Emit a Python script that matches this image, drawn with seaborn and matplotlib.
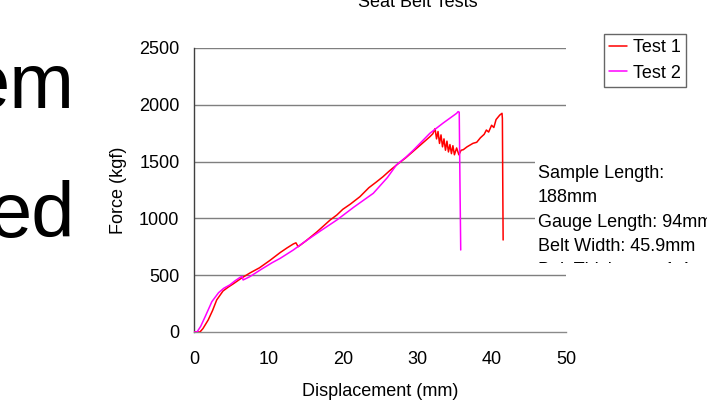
import numpy as np
import pandas as pd
import seaborn as sns
import matplotlib
matplotlib.use("Agg")
import matplotlib.pyplot as plt

# Seat belt pull tests: displacement (mm) vs force (kgf)
test1_disp = [0, 0.8, 1.2, 1.9, 2.5, 3.05, 3.9, 4.6, 5.3, 6.4, 7.5, 8.8, 10.2, 11.6,
              12.5, 13.35, 13.7, 14.0, 15.0, 16.5, 18.3, 19.2, 20.0, 21.0, 22.3, 23.5,
              24.5, 25.4, 26.3, 27.5, 28.4, 29.4, 30.5, 31.2, 31.7, 32.1, 32.4, 32.6,
              32.8, 33.0, 33.2, 33.4, 33.6, 33.8, 34.0, 34.2, 34.4, 34.6, 34.8, 35.0,
              35.3, 35.6, 35.9, 36.2, 36.7, 37.5, 38.0, 38.5, 39.0, 39.3, 39.6, 40.0,
              40.3, 40.6, 41.1, 41.4, 41.45, 41.5, 41.55]
test1_force = [0, 0, 30, 105, 190, 282, 361, 395, 425, 475, 519, 565, 630, 700,
               740, 775, 785, 751, 800, 880, 986, 1030, 1080, 1125, 1191, 1270,
               1320, 1367, 1420, 1485, 1530, 1587, 1650, 1690, 1719, 1745, 1790, 1700,
               1765, 1660, 1735, 1630, 1700, 1600, 1680, 1585, 1650, 1570, 1640, 1560,
               1620, 1560, 1600, 1605, 1630, 1661, 1670, 1710, 1740, 1778, 1760, 1820,
               1800, 1870, 1910, 1925, 1880, 1309, 810]

test2_disp = [0, 0.4, 0.9, 1.5, 2.4, 3.3, 4.0, 4.8, 5.5, 6.2, 6.45, 6.6, 7.5, 9.0,
              10.5, 11.6, 13.35, 15.0, 17.0, 19.2, 21.5, 24.1, 26.0, 27.2, 28.5, 29.5,
              31.7, 33.5, 35.3, 35.5, 35.65, 35.75, 35.85]
test2_force = [0, 0, 50, 135, 267, 346, 385, 414, 450, 481, 490, 458, 487, 550,
               610, 649, 722, 800, 890, 986, 1100, 1221, 1360, 1470, 1540, 1602,
               1749, 1840, 1925, 1940, 1935, 1300, 722]

y_ticks = [0, 500, 1000, 1500, 2000, 2500]
x_ticks = [0, 10, 20, 30, 40, 50]

notes = ["Sample Length:", "188mm", "Gauge Length: 94mm", "Belt Width: 45.9mm",
         "Belt Thickness: 1.4mm"]

df = pd.concat([
    pd.DataFrame({"disp": test1_disp, "force": test1_force, "test": "Test 1"}),
    pd.DataFrame({"disp": test2_disp, "force": test2_force, "test": "Test 2"}),
], ignore_index=True)

sns.set_style("white")
plt.rcParams["font.family"] = ["Liberation Sans", "DejaVu Sans"]
plt.rcParams["text.color"] = "black"
plt.rcParams["axes.labelcolor"] = "black"
fs = 13

W, H = 707, 401
fig = plt.figure(figsize=(W / 100, H / 100), dpi=100)
ax = fig.add_axes([194 / W, 1 - 332 / H, (566 - 194) / W, (332 - 48) / H])

sns.lineplot(data=df, x="disp", y="force", hue="test", sort=False, estimator=None,
             palette={"Test 1": "#ff0000", "Test 2": "#ff00ff"}, linewidth=1.1,
             ax=ax, zorder=3)

ax.set_xlim(0, 50)
ax.set_ylim(0, 2500)
ax.set_xticks(x_ticks)
ax.set_yticks(y_ticks)
for v in y_ticks[1:]:
    ax.axhline(v, color="#7f7f7f", lw=1.0, zorder=1)

for s in ["top", "right"]:
    ax.spines[s].set_visible(False)
ax.spines["left"].set_color("#404040")
ax.spines["bottom"].set_color("#8a8a8a")
ax.spines["left"].set_linewidth(1.0)
ax.spines["bottom"].set_linewidth(1.0)
ax.tick_params(axis="both", direction="out", length=4.5, width=1.0,
               colors="#606060", labelcolor="black", labelsize=fs)
ax.tick_params(axis="y", pad=6)
ax.tick_params(axis="x", pad=9)

ax.set_xlabel("Displacement (mm)", fontsize=fs, color="black")
ax.set_ylabel("Force (kgf)", fontsize=fs, color="black")
ax.xaxis.set_label_coords(0.5, -0.18)
ax.yaxis.set_label_coords(-0.18, 0.5)

leg = ax.legend(loc="upper left", bbox_to_anchor=(604 / W, 1 - 34 / H),
                bbox_transform=fig.transFigure, fontsize=fs, frameon=True,
                fancybox=False, handlelength=0.95, handletextpad=0.35,
                labelspacing=0.45, borderpad=0.3, borderaxespad=0)
leg.get_frame().set_edgecolor("#404040")
leg.get_frame().set_linewidth(1.0)
for t in leg.get_texts():
    t.set_color("black")

# slide title, cropped at the top edge
fig.text(418 / W, 1 - 7 / H, "Seat Belt Tests", ha="center", va="baseline",
         fontsize=fs, color="black")

# cropped slide text on the left
fig.text(75 / W, 1 - 108 / H, "em", ha="right", va="baseline", fontsize=56, color="black")
fig.text(75 / W, 1 - 237 / H, "ed", ha="right", va="baseline", fontsize=56, color="black")

# text box over the plot, clipped at its bottom
box_top, box_bot = 155, 263
bx = fig.add_axes([535 / W, 1 - box_bot / H, (W - 535) / W, (box_bot - box_top) / H])
bx.set_facecolor("white")
bx.set_xticks([])
bx.set_yticks([])
for s in bx.spines.values():
    s.set_visible(False)
bx.set_xlim(0, 1)
bx.set_ylim(0, 1)
for i, line in enumerate(notes):
    base = 178 + i * 24.3
    bx.text(3 / (W - 535), (box_bot - base) / (box_bot - box_top), line,
            ha="left", va="baseline", fontsize=fs, color="black", clip_on=True)

fig.savefig("out.png", dpi=100)
